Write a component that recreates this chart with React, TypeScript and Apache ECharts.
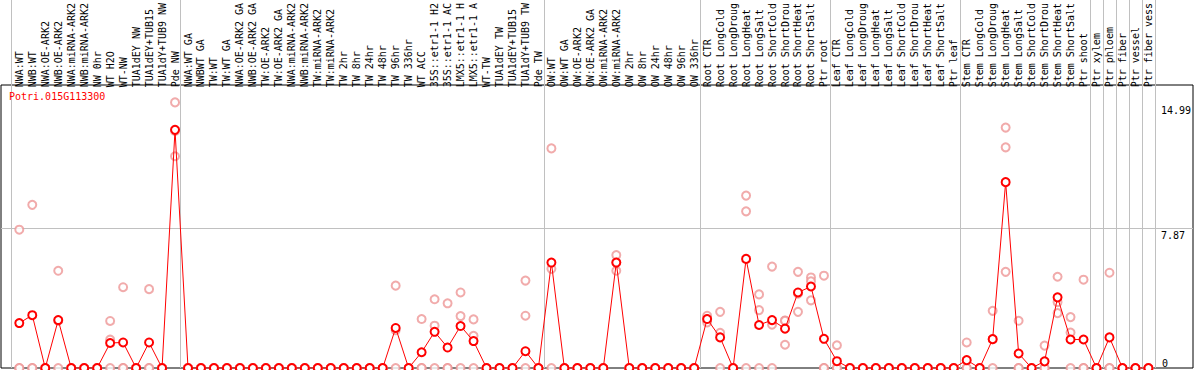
import React, { useEffect, useRef } from "react";
import * as echarts from "echarts";

const CATEGORIES: string[] = [
  "NWA:WT", "NWB:WT", "NWA:OE-ARK2", "NWB:OE-ARK2", "NWA:miRNA-ARK2", "NWB:miRNA-ARK2",
  "NW 0hr", "WT H2O", "WT-NW", "TUA1dEY NW", "TUA1dEY+TUB15", "TUA1dY+TUB9 NW", "Pde NW",
  "NWA:WT GA", "NWBWT GA", "TW:WT", "TW:WT GA", "NWA:OE-ARK2 GA", "NWB:OE-ARK2 GA",
  "TW:OE-ARK2", "TW:OE-ARK2 GA", "NWA:miRNA-ARK2", "NWB:miRNA-ARK2", "TW:miRNA-ARK2",
  "TW:miRNA-ARK2", "TW 2hr", "TW 8hr", "TW 24hr", "TW 48hr", "TW 96hr", "TW 336hr",
  "WT ACC", "35S::etr1-1 H2", "35S::etr1-1 AC", "LMX5::etr1-1 H", "LMX5::etr1-1 A",
  "WT-TW", "TUA1dEY TW", "TUA1dEY+TUB15", "TUA1dY+TUB9 TW", "Pde TW",
  "OW:WT", "OW:WT GA", "OW:OE-ARK2", "OW:OE-ARK2 GA", "OW:miRNA-ARK2", "OW:miRNA-ARK2",
  "OW 2hr", "OW 8hr", "OW 24hr", "OW 48hr", "OW 96hr", "OW 336hr",
  "Root CTR", "Root LongCold", "Root LongDroug", "Root LongHeat", "Root LongSalt",
  "Root ShortCold", "Root ShortDrou", "Root ShortHeat", "Root ShortSalt", "Ptr root",
  "Leaf CTR", "Leaf LongCold", "Leaf LongDroug", "Leaf LongHeat", "Leaf LongSalt",
  "Leaf ShortCold", "Leaf ShortDrou", "Leaf ShortHeat", "Leaf ShortSalt", "Ptr leaf",
  "Stem CTR", "Stem LongCold", "Stem LongDroug", "Stem LongHeat", "Stem LongSalt",
  "Stem ShortCold", "Stem ShortDrou", "Stem ShortHeat", "Stem ShortSalt", "Ptr shoot",
  "Ptr xylem", "Ptr phloem", "Ptr fiber", "Ptr vessel", "Ptr fiber vess",
];

const MEANS: number[] = [
  2.57, 3.02, 0, 2.74, 0, 0, 0, 1.43, 1.46, 0, 1.46, 0, 13.62,
  0, 0, 0, 0, 0, 0, 0, 0, 0, 0, 0, 0, 0, 0, 0, 0,
  2.29, 0, 0.9, 2.07, 1.17, 2.4, 1.54, 0, 0, 0, 0.96, 0,
  6.03, 0, 0, 0, 0, 6.03, 0, 0, 0, 0, 0, 0,
  2.8, 1.75, 0, 6.24, 2.46, 2.74, 2.25, 4.32, 4.66, 1.67,
  0.39, 0, 0, 0, 0, 0, 0, 0, 0, 0,
  0.45, 0, 1.65, 10.63, 0.83, 0, 0.38, 4.04, 1.63, 1.63,
  0, 1.75, 0, 0, 0,
];

const REP1: number[] = [
  7.91, 9.33, 0, 5.56, 0, 0, 0, 2.69, 4.62, 0, 4.51, 0, 15.19,
  0, 0, 0, 0, 0, 0, 0, 0, 0, 0, 0, 0, 0, 0, 0, 0,
  4.71, 0, 2.8, 3.93, 3.7, 4.32, 2.78, 0, 0, 0, 5.0, 0,
  12.56, 0, 0, 0, 0, 6.46, 0, 0, 0, 0, 0, 0,
  2.99, 3.21, 0, 9.86, 4.21, 5.8, 2.72, 5.5, 5.18, 5.28,
  1.3, 0, 0, 0, 0, 0, 0, 0, 0, 0,
  1.46, 0, 3.27, 13.75, 2.7, 0, 1.28, 5.22, 2.91, 5.05,
  0, 5.45, 0, 0, 0,
];

const REP2: number[] = [
  0, 0, 0, 2.7, 0, 0, 0, 1.62, 0, 0, 0, 0, 13.56,
  0, 0, 0, 0, 0, 0, 0, 0, 0, 0, 0, 0, 0, 0, 0, 0,
  2.16, 0, 0, 2.42, 0, 2.97, 1.84, 0, 0, 0, 2.99, 0,
  5.67, 0, 0, 0, 0, 6.03, 0, 0, 0, 0, 0, 0,
  2.8, 2.01, 0, 8.96, 3.31, 2.48, 2.7, 4.25, 4.96, 0,
  0, 0, 0, 0, 0, 0, 0, 0, 0, 0,
  0, 0, 1.65, 12.62, 0, 0, 0, 3.77, 2.03, 0,
  0, 0, 0, 0, 0,
];

const REP3: number[] = [
  0, 0, 0, 0, 0, 0, 0, 0, 0, 0, 0, 0, 12.11,
  0, 0, 0, 0, 0, 0, 0, 0, 0, 0, 0, 0, 0, 0, 0, 0,
  0, 0, 0, 0, 0, 0, 0, 0, 0, 0, 0, 0,
  0, 0, 0, 0, 0, 5.56, 0, 0, 0, 0, 0, 0,
  2.61, 0, 0, 0, 0, 0, 1.33, 3.21, 3.87, 0,
  0, 0, 0, 0, 0, 0, 0, 0, 0, 0,
  0, 0, 0, 5.5, 0, 0, 0, 3.14, 0, 0,
  0, 0, 0, 0, 0,
];

// indices of the first sample of each group (88 = end)
const GROUP_STARTS: number[] = [0, 13, 41, 53, 63, 73, 83, 84, 85, 86, 87, 88];
const Y_TICKS_TOP: number[] = [7.87, 14.99];
const Y_TICKS_BOTTOM: number[] = [0];
const GUIDE_VALUE = 7.87;
const GENE_ID = "Potri.015G113300";

const FONT = "DejaVu Sans Mono";
const BAND = 13;
const DATA_LEFT = 12.8;
const FRAME_LEFT = 1;
const FRAME_W = 1192;
const PLOT_TOP = 85;
const PLOT_H = 283;
const Y_MAX = 15.94;
const LINE_OFFSET = 0.64;

export default function App() {
  const ref = useRef<HTMLDivElement>(null);
  useEffect(() => {
    if (!ref.current) return;
    const chart = echarts.init(ref.current, undefined, { renderer: "svg" });
    const n = CATEGORIES.length;
    const xmin = -0.5 - (DATA_LEFT - FRAME_LEFT) / BAND;
    const xmax = xmin + FRAME_W / BAND;
    const reps: any[] = [];
    [REP1, REP2, REP3].forEach((arr) =>
      arr.forEach((v, i) => {
        if (v !== null && v !== undefined) reps.push([i, v]);
      })
    );
    const hiddenAxis = { show: false };
    chart.setOption({
      animation: false,
      backgroundColor: "#ffffff",
      title: {
        text: GENE_ID,
        left: 9,
        top: 91,
        padding: 0,
        textStyle: { color: "#ff0000", fontSize: 10, fontFamily: FONT, fontWeight: "normal" },
      },
      grid: [
        { left: DATA_LEFT, top: PLOT_TOP, width: BAND * n, height: PLOT_H },
        {
          left: FRAME_LEFT, top: PLOT_TOP, width: FRAME_W, height: PLOT_H,
          show: true, borderColor: "#000000", borderWidth: 1, backgroundColor: "transparent",
        },
        { left: FRAME_LEFT, top: 0, width: FRAME_W, height: PLOT_TOP + PLOT_H },
      ],
      xAxis: [
        {
          type: "category",
          gridIndex: 0,
          position: "top",
          data: CATEGORIES,
          boundaryGap: true,
          axisLine: { show: false },
          axisTick: { show: false },
          splitLine: { show: false },
          axisLabel: {
            interval: 0,
            rotate: 90,
            margin: 2,
            color: "#000000",
            fontSize: 10,
            fontFamily: FONT,
          },
        },
        { type: "value", gridIndex: 1, min: xmin, max: xmax, ...hiddenAxis },
        { type: "value", gridIndex: 2, min: xmin, max: xmax, ...hiddenAxis },
      ],
      yAxis: [
        {
          type: "value",
          gridIndex: 0,
          position: "right",
          min: 0,
          max: Y_MAX,
          axisLine: { show: false },
          axisTick: { show: false },
          splitLine: { show: false },
          axisLabel: {
            customValues: Y_TICKS_TOP,
            formatter: (v: number) => String(v),
            margin: 6,
            verticalAlign: "top",
            color: "#000000",
            fontSize: 10,
            fontFamily: FONT,
          },
        },
        {
          type: "value",
          gridIndex: 0,
          position: "right",
          min: 0,
          max: Y_MAX,
          axisLine: { show: false },
          axisTick: { show: false },
          splitLine: { show: false },
          axisLabel: {
            customValues: Y_TICKS_BOTTOM,
            formatter: (v: number) => String(v),
            margin: 7,
            verticalAlign: "bottom",
            color: "#000000",
            fontSize: 10,
            fontFamily: FONT,
          },
        },
        { type: "value", gridIndex: 1, min: 0, max: Y_MAX, ...hiddenAxis },
        { type: "value", gridIndex: 2, min: 0, max: 1, ...hiddenAxis },
      ],
      series: [
        {
          type: "custom",
          xAxisIndex: 2,
          yAxisIndex: 3,
          z: 1,
          silent: true,
          data: GROUP_STARTS.map((g) => [g - LINE_OFFSET]),
          renderItem: (params: any, api: any) => {
            const cs = params.coordSys;
            const x = Math.round(api.coord([api.value(0), 0])[0]) + 0.5;
            return {
              type: "line",
              shape: { x1: x, y1: cs.y, x2: x, y2: cs.y + cs.height },
              style: { stroke: "#c0c0c0", lineWidth: 1 },
            };
          },
        },
        {
          type: "custom",
          xAxisIndex: 1,
          yAxisIndex: 2,
          z: 1,
          silent: true,
          data: [[0, GUIDE_VALUE]],
          renderItem: (params: any, api: any) => {
            const cs = params.coordSys;
            const y = Math.round(api.coord([0, api.value(1)])[1]) + 0.5;
            return {
              type: "line",
              shape: { x1: cs.x, y1: y, x2: cs.x + cs.width, y2: y },
              style: { stroke: "#c0c0c0", lineWidth: 1 },
            };
          },
        },
        {
          type: "scatter",
          xAxisIndex: 0,
          yAxisIndex: 0,
          z: 3,
          symbol: "emptyCircle",
          symbolSize: 8,
          itemStyle: { color: "#ee9696", borderColor: "#ee9696", borderWidth: 1.2 },
          data: reps,
        },
        {
          type: "line",
          xAxisIndex: 0,
          yAxisIndex: 0,
          z: 4,
          symbol: "emptyCircle",
          symbolSize: 8,
          lineStyle: { color: "#ff0000", width: 1 },
          itemStyle: { color: "#ff0000", borderColor: "#ff0000", borderWidth: 1.2 },
          data: MEANS,
        },
      ],
    });
    return () => chart.dispose();
  }, []);
  return (
    <div
      ref={ref}
      style={{ position: "fixed", left: 0, top: 0, width: 1194, height: 370, background: "#fff" }}
    />
  );
}
